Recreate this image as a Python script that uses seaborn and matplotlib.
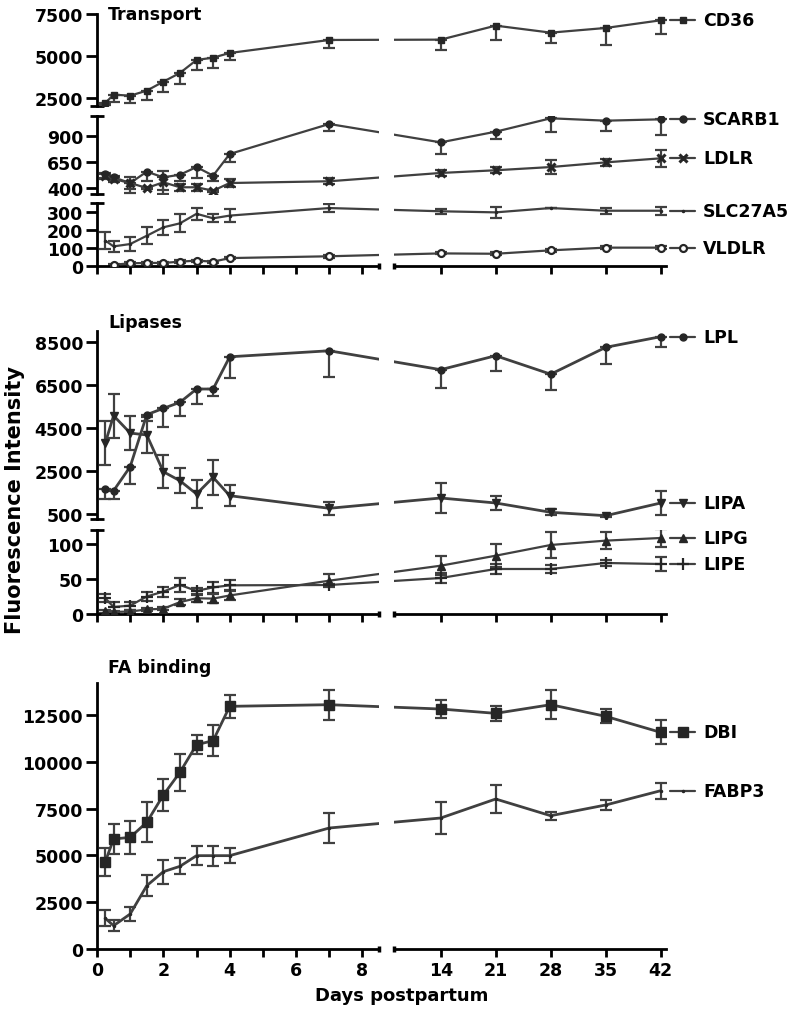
import numpy as np
import seaborn as sns
import matplotlib.pyplot as plt
from matplotlib.transforms import blended_transform_factory

# ---- data ----
days = [0.25, 0.5, 1, 1.5, 2, 2.5, 3, 3.5, 4, 7, 14, 21, 28, 35, 42]

cd36 = [2180, 2680, 2620, 2920, 3460, 3980, 4760, 4900, 5180, 5960, 5980, 6820, 6400, 6680, 7140]
cd36_err = [100, 460, 460, 540, 600, 660, 600, 600, 400, 500, 620, 880, 600, 1040, 800]

scarb1 = [538, 506, 451, 560, 506, 531, 605, 522, 731, 1020, 843, 946, 1075, 1052, 1065]
scarb1_err = [40, 40, 100, 85, 120, 60, 110, 50, 80, 65, 110, 70, 135, 95, 155]

ldlr = [522, 490, 451, 403, 458, 410, 410, 377, 451, 468, 548, 574, 605, 650, 689]
ldlr_err = [30, 30, 60, 10, 110, 35, 35, 10, 40, 30, 30, 30, 65, 35, 85]

slc27a5 = [141, 109, 122, 168, 215, 237, 290, 265, 280, 322, 304, 298, 322, 307, 307]
slc27a5_err = [46, 31, 37, 46, 43, 50, 33, 22, 37, 22, 15, 31, 0, 17, 22]

vldlr = [np.nan, 7, 15, 17, 17, 24, 30, 24, 44, 54, 70, 68, 87, 102, 102]
vldlr_err = [0, 4, 5, 5, 5, 8, 6, 5, 5, 8, 6, 8, 8, 8, 8]

lpl = [1646, 1567, 2684, 5104, 5400, 5680, 6300, 6300, 7800, 8080, 7200, 7850, 6990, 8240, 8735]
lpl_err = [465, 390, 805, 300, 884, 620, 700, 310, 990, 1240, 850, 730, 730, 775, 496]

lipa = [3787, 5060, 4250, 4160, 2450, 2030, 1414, 2190, 1335, 748, 1227, 995, 562, 404, 995]
lipa_err = [1008, 1024, 776, 853, 760, 590, 667, 815, 497, 310, 700, 326, 140, 50, 558]

lipg = [4, 3, 3.5, 6.5, 7.5, 17, 22.5, 22, 26.5, 47.6, 69, 83.3, 98.6, 104.8, 108.6]
lipg_err = [2, 2, 2, 2, 2, 4, 5, 6, 7, 9.5, 13.8, 16, 18.6, 12.4, 12.8]

lipe = [22.5, 10, 12, 25, 32, 41.5, 33, 38, 41, 41.4, 51.4, 64.3, 64.3, 72.9, 71.4]
lipe_err = [5.7, 7, 5.7, 7, 7, 9.5, 3.8, 8, 7, 2, 7, 7, 5.7, 3.8, 9.5]

dbi = [4662, 5872, 5960, 6763, 8220, 9432, 10906, 11120, 12954, 13042, 12811, 12580, 13042, 12420, 11566]
dbi_err = [747, 783, 890, 1068, 836, 996, 516, 827, 632, 800, 498, 400, 774, 374, 640]

fabp3 = [1637, 1245, 1868, 3380, 4128, 4413, 4983, 4983, 4983, 6459, 6993, 8007, 7115, 7687, 8450]
fabp3_err = [427, 300, 356, 560, 640, 427, 516, 534, 383, 800, 872, 738, 214, 267, 427]

# ---- style ----
sns.set_style("ticks")
plt.rcParams['font.family'] = ['DejaVu Sans']
plt.rcParams['font.weight'] = 'bold'
for k in ('text.color', 'axes.labelcolor', 'xtick.color', 'ytick.color'):
    plt.rcParams[k] = 'black'

LINE = '#404040'
DARK = '#262626'

# broken x axis: days 0-8.5 wide, 14-42 compressed; lines cross the gap straight
XK = np.array([-100, 8.5, 14, 200])
UK = np.array([-100, 8.5, 10.359, 10.359 + 186 * 0.2368])


def fwd(x):
    return np.interp(x, XK, UK)


def inv(u):
    return np.interp(u, UK, XK)


W, H = 803, 1012
fig = plt.figure(figsize=(W / 100, H / 100), dpi=100)


def make_panel(top, bottom, ylim, yticks, caps, xaxis=False, xlabels=False):
    h = (bottom - top) / H
    b = 1 - bottom / H
    axl = fig.add_axes([97 / W, b, 282 / W, h])
    axr = fig.add_axes([394 / W, b, 271.7 / W, h])
    for ax, lim in ((axl, (0, 8.5)), (axr, (9.834, 42.64))):
        ax.set_xscale('function', functions=(fwd, inv))
        ax.set_xlim(*lim)
        ax.set_ylim(*ylim)
        ax.patch.set_alpha(0)
        for s in ('top', 'right'):
            ax.spines[s].set_visible(False)
        ax.spines['bottom'].set_visible(xaxis)
        for s in ('left', 'bottom'):
            ax.spines[s].set_linewidth(2)
            ax.spines[s].set_color('black')
    axr.spines['left'].set_visible(False)
    axr.set_yticks([])
    axl.set_yticks(yticks)
    axl.set_yticks(caps, minor=True)
    axl.tick_params(axis='y', which='major', length=8, width=2, labelsize=12.5, pad=2)
    axl.tick_params(axis='y', which='minor', direction='inout', length=10, width=2)
    if xaxis:
        axl.set_xticks([0, 2, 4, 6, 8])
        axl.set_xticks([1, 3, 5, 7], minor=True)
        axr.set_xticks([14, 21, 28, 35, 42])
        axr.set_xticks([], minor=True)
        for ax in (axl, axr):
            ax.tick_params(axis='x', which='both', length=6, width=2,
                           labelsize=12.5, pad=3, labelbottom=xlabels)
            ax.set_xticklabels([str(t) for t in ax.get_xticks()] if xlabels else [])
        axl.plot([1], [0], marker='|', ms=5, mew=2.5, color='black',
                 transform=axl.transAxes, clip_on=False)
        axr.plot([0], [0], marker='|', ms=5, mew=2.5, color='black',
                 transform=axr.transAxes, clip_on=False)
    else:
        for ax in (axl, axr):
            ax.set_xticks([])
            ax.set_xticks([], minor=True)
    return axl, axr


def draw(axes, y, err, name, marker, ms=5, one_sided=False, mfc=DARK, mew=1, lw=1.6):
    lower = np.array(err, dtype=float)
    upper = np.zeros_like(lower) if one_sided else lower
    for ax in axes:
        ax.errorbar(days, y, yerr=[lower, upper], fmt='none', ecolor=LINE,
                    elinewidth=1.6, capsize=4.5, capthick=1.6, zorder=2)
        sns.lineplot(x=days, y=y, ax=ax, color=LINE, linewidth=lw, marker=marker,
                     markersize=ms, markerfacecolor=mfc, markeredgecolor=DARK,
                     markeredgewidth=mew, errorbar=None, zorder=3)
    # label next to the last point, Prism-style
    axr = axes[1]
    tr = blended_transform_factory(axr.transAxes, axr.transData)
    yl = y[-1]
    axr.plot([1.016, 1.108], [yl, yl], color=LINE, lw=1.6, transform=tr, clip_on=False)
    axr.plot([1.062], [yl], marker=marker, ms=ms, mfc=mfc, mec=DARK, mew=mew,
             transform=tr, clip_on=False)
    axr.text(1.137, yl, name, transform=tr, ha='left', va='center',
             fontsize=12.5, fontweight='bold')


# Transport
p1 = make_panel(15.3, 107, (2000, 7500), [2500, 5000, 7500], [2000])
p2 = make_panel(116.7, 194.5, (350, 1100), [400, 650, 900], [350, 1100])
p3 = make_panel(204, 267, (0, 350), [0, 100, 200, 300], [350], xaxis=True)
# Lipases
p4 = make_panel(332, 520, (250, 9000), [500, 2500, 4500, 6500, 8500], [250])
p5 = make_panel(531, 615, (0, 120), [0, 50, 100], [120], xaxis=True)
# FA binding
p6 = make_panel(684, 950, (0, 14200), [0, 2500, 5000, 7500, 10000, 12500], [],
                xaxis=True, xlabels=True)

draw(p1, cd36, cd36_err, 'CD36', 's', ms=5, one_sided=True)
draw(p2, scarb1, scarb1_err, 'SCARB1', 'o', ms=5, one_sided=True)
draw(p2, ldlr, ldlr_err, 'LDLR', 'x', ms=6, mew=2.2)
draw(p3, slc27a5, slc27a5_err, 'SLC27A5', '.', ms=3)
draw(p3, vldlr, vldlr_err, 'VLDLR', 'o', ms=5, mfc='white', mew=1.6)
draw(p4, lpl, lpl_err, 'LPL', 'o', ms=5, one_sided=True, lw=2)
draw(p4, lipa, lipa_err, 'LIPA', 'v', ms=6, lw=2)
draw(p5, lipg, lipg_err, 'LIPG', '^', ms=6)
draw(p5, lipe, lipe_err, 'LIPE', '+', ms=8, mew=1.6)
draw(p6, dbi, dbi_err, 'DBI', 's', ms=7, lw=2)
draw(p6, fabp3, fabp3_err, 'FABP3', '.', ms=3, lw=2)

# group titles and axis labels
for txt, ybase in (("Transport", 19.5), ("Lipases", 328.5), ("FA binding", 673.5)):
    fig.text(108 / W, 1 - ybase / H, txt, ha='left', va='baseline',
             fontsize=12.5, fontweight='bold')
fig.text(15 / W, 1 - 500 / H, "Fluorescence Intensity", rotation=90,
         ha='center', va='center', fontsize=15, fontweight='bold')
fig.text(402 / W, 1 - 1001 / H, "Days postpartum", ha='center', va='baseline',
         fontsize=13, fontweight='bold')

plt.savefig("out.png", dpi=100)
plt.close()
